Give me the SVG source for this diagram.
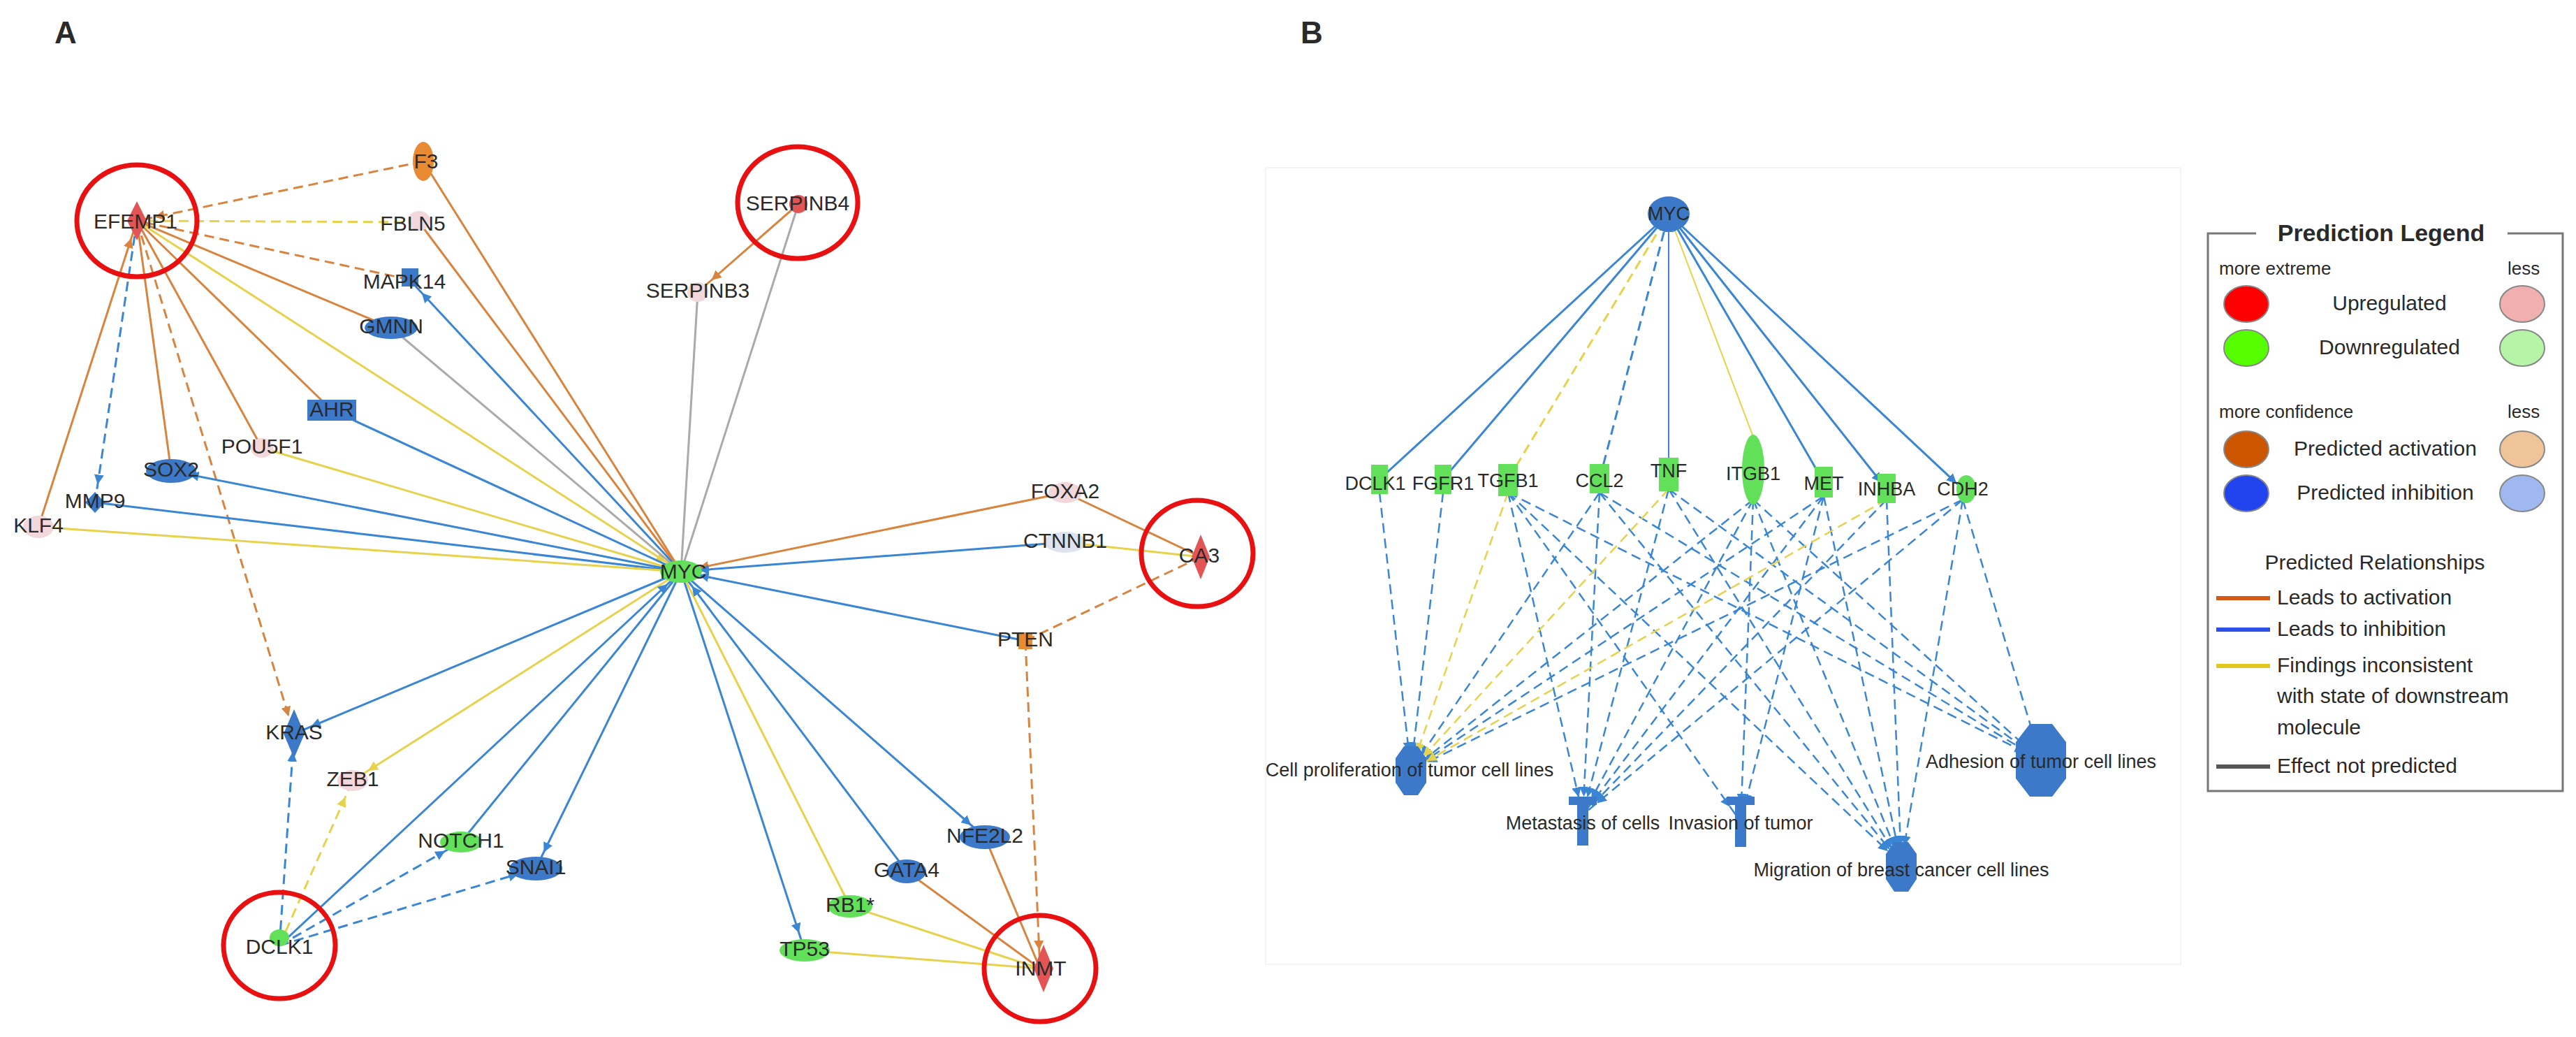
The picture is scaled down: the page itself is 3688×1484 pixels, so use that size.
<svg xmlns="http://www.w3.org/2000/svg" width="3688" height="1484" viewBox="0 0 3688 1484">
<style>
text{font-family:"Liberation Sans",Arial,sans-serif;fill:#2a2a2a}
.lab{font-size:30px;text-anchor:middle;dominant-baseline:middle}
.bl{font-size:27px;text-anchor:middle;dominant-baseline:middle}
.lg{font-size:30px;dominant-baseline:middle}
.e{fill:none;stroke-width:3}
.b{stroke:#3a86d4}.o{stroke:#d8843e}.y{stroke:#e6d24c}.g{stroke:#aaaaaa}
.d{stroke-dasharray:14 8}
.ring{fill:none;stroke:#e81010;stroke-width:7}
.nb{fill:#3c79c8}.ng{fill:#63e05a}.np{fill:#f2d7db}.no{fill:#e88a32}.nr{fill:#e35555}
</style>
<defs>
<marker id="mb" markerUnits="userSpaceOnUse" markerWidth="60" markerHeight="20" viewBox="0 0 60 20" refX="40" refY="10" orient="auto"><path d="M0,3 L14,10 L0,17z" fill="#3a86d4"/></marker>
<marker id="mo" markerUnits="userSpaceOnUse" markerWidth="60" markerHeight="20" viewBox="0 0 60 20" refX="40" refY="10" orient="auto"><path d="M0,3 L14,10 L0,17z" fill="#d8843e"/></marker>
<marker id="my" markerUnits="userSpaceOnUse" markerWidth="60" markerHeight="20" viewBox="0 0 60 20" refX="40" refY="10" orient="auto"><path d="M0,3 L14,10 L0,17z" fill="#e6d24c"/></marker>
<marker id="mb2" markerUnits="userSpaceOnUse" markerWidth="60" markerHeight="20" viewBox="0 0 60 20" refX="26" refY="10" orient="auto"><path d="M0,3 L14,10 L0,17z" fill="#3a86d4"/></marker>
<marker id="my2" markerUnits="userSpaceOnUse" markerWidth="60" markerHeight="20" viewBox="0 0 60 20" refX="26" refY="10" orient="auto"><path d="M0,3 L14,10 L0,17z" fill="#e6d24c"/></marker>
</defs>
<rect width="3688" height="1484" fill="#fff"/>
<text x="78" y="62" style="font-size:44px;font-weight:bold">A</text>
<text x="1862" y="62" style="font-size:44px;font-weight:bold">B</text>

<g id="connectorsA">
<line class="e o d" x1="606" y1="231" x2="196" y2="316" marker-end="url(#mo)"/>
<line class="e y d" x1="600" y1="318" x2="196" y2="316"/>
<line class="e o d" x1="586" y1="400" x2="196" y2="316"/>
<line class="e o" x1="560" y1="469" x2="196" y2="316"/>
<line class="e o" x1="475" y1="587" x2="196" y2="316"/>
<line class="e o" x1="375" y1="641" x2="196" y2="316"/>
<line class="e o" x1="245" y1="674" x2="196" y2="316"/>
<line class="e b d" x1="196" y1="316" x2="136" y2="719" marker-end="url(#mb)"/>
<line class="e o" x1="55" y1="754" x2="196" y2="316" marker-end="url(#mo)"/>
<line class="e o d" x1="196" y1="316" x2="421" y2="1050" marker-end="url(#mo)"/>
<line class="e y" x1="196" y1="316" x2="975" y2="818" marker-end="url(#my)"/>
<line class="e o" x1="606" y1="231" x2="975" y2="818"/>
<line class="e o" x1="600" y1="318" x2="975" y2="818"/>
<line class="e b" x1="975" y1="818" x2="586" y2="400" marker-end="url(#mb)"/>
<line class="e g" x1="560" y1="469" x2="975" y2="818"/>
<line class="e b" x1="475" y1="587" x2="975" y2="818"/>
<line class="e y" x1="375" y1="641" x2="975" y2="818"/>
<line class="e b" x1="975" y1="818" x2="245" y2="674" marker-end="url(#mb)"/>
<line class="e b" x1="136" y1="719" x2="975" y2="818"/>
<line class="e y" x1="55" y1="754" x2="975" y2="818"/>
<line class="e o" x1="1143" y1="292" x2="999" y2="418" marker-end="url(#mo)"/>
<line class="e g" x1="999" y1="418" x2="975" y2="818"/>
<line class="e g" x1="1143" y1="292" x2="975" y2="818"/>
<line class="e o" x1="1525" y1="705" x2="975" y2="818" marker-end="url(#mo)"/>
<line class="e b" x1="1525" y1="776" x2="975" y2="818" marker-end="url(#mb)"/>
<line class="e o" x1="1525" y1="705" x2="1719" y2="797"/>
<line class="e y" x1="1525" y1="776" x2="1719" y2="797"/>
<line class="e b" x1="1468" y1="917" x2="975" y2="818" marker-end="url(#mb)"/>
<line class="e o d" x1="1719" y1="797" x2="1468" y2="917"/>
<line class="e o d" x1="1468" y1="917" x2="1489" y2="1386" marker-end="url(#mo)"/>
<line class="e b" x1="975" y1="818" x2="421" y2="1050" marker-end="url(#mb)"/>
<line class="e y" x1="975" y1="818" x2="505" y2="1117" marker-end="url(#my)"/>
<line class="e b" x1="660" y1="1205" x2="975" y2="818"/>
<line class="e b" x1="400" y1="1353" x2="975" y2="818" marker-end="url(#mb)"/>
<line class="e b" x1="975" y1="818" x2="767" y2="1243" marker-end="url(#mb)"/>
<line class="e b" x1="975" y1="818" x2="1152" y2="1360" marker-end="url(#mb)"/>
<line class="e y" x1="975" y1="818" x2="1217" y2="1297"/>
<line class="e b" x1="1298" y1="1247" x2="975" y2="818" marker-end="url(#mb)"/>
<line class="e b" x1="975" y1="818" x2="1410" y2="1198" marker-end="url(#mb)"/>
<line class="e o" x1="1410" y1="1198" x2="1489" y2="1386"/>
<line class="e o" x1="1298" y1="1247" x2="1489" y2="1386"/>
<line class="e y" x1="1217" y1="1297" x2="1489" y2="1386"/>
<line class="e y" x1="1152" y1="1360" x2="1489" y2="1386"/>
<line class="e b d" x1="400" y1="1353" x2="421" y2="1050" marker-end="url(#mb)"/>
<line class="e y d" x1="400" y1="1353" x2="505" y2="1117" marker-end="url(#my)"/>
<line class="e b d" x1="400" y1="1353" x2="660" y2="1205" marker-end="url(#mb)"/>
<line class="e b d" x1="400" y1="1353" x2="767" y2="1243" marker-end="url(#mb)"/>
</g>

<g id="nodesA">
<g id="n-EFEMP1"><ellipse class="ring" cx="196" cy="316" rx="86" ry="80"/><path class="nr" d="M196,288 L210,316 L196,344 L182,316z"/><text class="lab" x="194" y="319">EFEMP1</text></g>
<g id="n-F3"><ellipse class="no" cx="606" cy="231" rx="15" ry="28"/><text class="lab" x="610" y="233">F3</text></g>
<g id="n-FBLN5"><ellipse class="np" cx="600" cy="316" rx="16" ry="14"/><text class="lab" x="591" y="322">FBLN5</text></g>
<g id="n-MAPK14"><rect class="nb" x="575" y="384" width="24" height="26"/><text class="lab" x="579" y="405">MAPK14</text></g>
<g id="n-GMNN"><ellipse class="nb" cx="560" cy="469" rx="38" ry="16"/><text class="lab" x="560" y="469">GMNN</text></g>
<g id="n-AHR"><rect class="nb" x="440" y="572" width="70" height="30"/><text class="lab" x="475" y="588">AHR</text></g>
<g id="n-POU5F1"><ellipse class="np" cx="375" cy="641" rx="16" ry="14"/><text class="lab" x="375" y="641">POU5F1</text></g>
<g id="n-SOX2"><ellipse class="nb" cx="245" cy="674" rx="36" ry="17"/><text class="lab" x="245" y="674">SOX2</text></g>
<g id="n-MMP9"><path class="nb" d="M136,704 L150,719 L136,734 L122,719z"/><text class="lab" x="136" y="719">MMP9</text></g>
<g id="n-KLF4"><ellipse class="np" cx="55" cy="754" rx="22" ry="16"/><text class="lab" x="55" y="754">KLF4</text></g>
<g id="n-MYC"><ellipse class="ng" cx="975" cy="818" rx="30" ry="16"/><text class="lab" x="978" y="820">MYC</text></g>
<g id="n-SERPINB4"><ellipse class="ring" cx="1142" cy="290" rx="86" ry="80"/><circle class="nr" cx="1143" cy="292" r="13"/><text class="lab" x="1142" y="293">SERPINB4</text></g>
<g id="n-SERPINB3"><ellipse class="np" cx="999" cy="418" rx="15" ry="14"/><text class="lab" x="999" y="418">SERPINB3</text></g>
<g id="n-FOXA2"><ellipse class="np" cx="1525" cy="705" rx="24" ry="15"/><text class="lab" x="1525" y="705">FOXA2</text></g>
<g id="n-CTNNB1"><ellipse class="np" cx="1525" cy="776" rx="30" ry="15" style="fill:#dfe3f0"/><text class="lab" x="1525" y="776">CTNNB1</text></g>
<g id="n-CA3"><ellipse class="ring" cx="1714" cy="792" rx="80" ry="76"/><path class="nr" d="M1719,765 L1732,797 L1719,829 L1706,797z"/><text class="lab" x="1717" y="797">CA3</text></g>
<g id="n-PTEN"><rect class="no" x="1458" y="905" width="20" height="24"/><text class="lab" x="1468" y="917">PTEN</text></g>
<g id="n-KRAS"><path class="nb" d="M421,1015 L436,1050 L421,1085 L406,1050z"/><text class="lab" x="421" y="1050">KRAS</text></g>
<g id="n-ZEB1"><ellipse class="np" cx="505" cy="1117" rx="22" ry="15"/><text class="lab" x="505" y="1117">ZEB1</text></g>
<g id="n-NOTCH1"><ellipse class="ng" cx="660" cy="1205" rx="30" ry="15"/><text class="lab" x="660" y="1205">NOTCH1</text></g>
<g id="n-SNAI1"><ellipse class="nb" cx="767" cy="1243" rx="38" ry="17"/><text class="lab" x="767" y="1243">SNAI1</text></g>
<g id="n-DCLK1"><ellipse class="ring" cx="400" cy="1353" rx="80" ry="76"/><ellipse class="ng" cx="400" cy="1342" rx="14" ry="12"/><text class="lab" x="400" y="1357">DCLK1</text></g>
<g id="n-NFE2L2"><ellipse class="nb" cx="1410" cy="1198" rx="36" ry="17"/><text class="lab" x="1410" y="1198">NFE2L2</text></g>
<g id="n-GATA4"><ellipse class="nb" cx="1298" cy="1247" rx="28" ry="17"/><text class="lab" x="1298" y="1247">GATA4</text></g>
<g id="n-RB1"><ellipse class="ng" cx="1217" cy="1297" rx="32" ry="16"/><text class="lab" x="1217" y="1297">RB1*</text></g>
<g id="n-TP53"><ellipse class="ng" cx="1152" cy="1360" rx="36" ry="16"/><text class="lab" x="1152" y="1360">TP53</text></g>
<g id="n-INMT"><ellipse class="ring" cx="1489" cy="1386" rx="80" ry="76"/><path class="nr" d="M1494,1352 L1508,1386 L1494,1420 L1480,1386z"/><text class="lab" x="1490" y="1388">INMT</text></g>
</g>

<rect x="1812" y="240" width="1310" height="1140" fill="none" stroke="#f4f4f4" stroke-width="2"/>

<g id="connectorsB">
<line class="e b" x1="1975" y1="686" x2="2389" y2="306" marker-end="url(#mb2)"/>
<line class="e b" x1="2066" y1="686" x2="2389" y2="306" marker-end="url(#mb2)"/>
<line class="e y d" x1="2159" y1="686" x2="2389" y2="306" marker-end="url(#my2)"/>
<line class="e b d" x1="2290" y1="686" x2="2389" y2="306" marker-end="url(#mb2)"/>
<line class="e b" style="stroke-width:2" x1="2389" y1="679" x2="2389" y2="306" marker-end="url(#mb2)"/>
<line class="e y" style="stroke-width:2" x1="2389" y1="306" x2="2510" y2="625"/>
<line class="e b" x1="2611" y1="690" x2="2389" y2="306" marker-end="url(#mb2)"/>
<line class="e b" x1="2389" y1="306" x2="2701" y2="700" marker-end="url(#mb2)"/>
<line class="e b" x1="2389" y1="306" x2="2810" y2="700" marker-end="url(#mb2)"/>
<g class="e b d" style="stroke-width:2.5">
<line x1="1975" y1="705" x2="2020" y2="1102" marker-end="url(#mb)"/>
<line x1="2066" y1="705" x2="2020" y2="1102" marker-end="url(#mb)"/>
<line x1="2159" y1="705" x2="2266" y2="1166" marker-end="url(#mb)"/>
<line x1="2159" y1="705" x2="2492" y2="1176" marker-end="url(#mb)"/>
<line x1="2159" y1="705" x2="2722" y2="1236" marker-end="url(#mb)"/>
<line x1="2159" y1="705" x2="2922" y2="1088" marker-end="url(#mb)"/>
<line x1="2290" y1="705" x2="2020" y2="1102" marker-end="url(#mb)"/>
<line x1="2290" y1="705" x2="2266" y2="1166" marker-end="url(#mb)"/>
<line x1="2290" y1="705" x2="2722" y2="1236" marker-end="url(#mb)"/>
<line x1="2290" y1="705" x2="2922" y2="1088" marker-end="url(#mb)"/>
<line x1="2389" y1="700" x2="2266" y2="1166" marker-end="url(#mb)"/>
<line x1="2389" y1="700" x2="2722" y2="1236" marker-end="url(#mb)"/>
<line x1="2389" y1="700" x2="2922" y2="1088" marker-end="url(#mb)"/>
<line x1="2510" y1="715" x2="2020" y2="1102" marker-end="url(#mb)"/>
<line x1="2510" y1="715" x2="2266" y2="1166" marker-end="url(#mb)"/>
<line x1="2510" y1="715" x2="2492" y2="1176" marker-end="url(#mb)"/>
<line x1="2510" y1="715" x2="2722" y2="1236" marker-end="url(#mb)"/>
<line x1="2510" y1="715" x2="2922" y2="1088" marker-end="url(#mb)"/>
<line x1="2611" y1="710" x2="2020" y2="1102" marker-end="url(#mb)"/>
<line x1="2611" y1="710" x2="2266" y2="1166" marker-end="url(#mb)"/>
<line x1="2611" y1="710" x2="2492" y2="1176" marker-end="url(#mb)"/>
<line x1="2611" y1="710" x2="2722" y2="1236" marker-end="url(#mb)"/>
<line x1="2701" y1="715" x2="2266" y2="1166" marker-end="url(#mb)"/>
<line x1="2701" y1="715" x2="2722" y2="1236" marker-end="url(#mb)"/>
<line x1="2810" y1="715" x2="2020" y2="1102" marker-end="url(#mb)"/>
<line x1="2810" y1="715" x2="2266" y2="1166" marker-end="url(#mb)"/>
<line x1="2810" y1="715" x2="2722" y2="1236" marker-end="url(#mb)"/>
<line x1="2810" y1="715" x2="2922" y2="1088" marker-end="url(#mb)"/>
</g>
<line class="e y d" style="stroke-width:2.5" x1="2159" y1="705" x2="2020" y2="1102" marker-end="url(#my)"/>
<line class="e y d" style="stroke-width:2.5" x1="2389" y1="700" x2="2020" y2="1102" marker-end="url(#my)"/>
<line class="e y d" style="stroke-width:2.5" x1="2701" y1="715" x2="2020" y2="1102" marker-end="url(#my)"/>
</g>

<g id="nodesB">
<g id="b-MYC"><ellipse class="nb" cx="2389" cy="306" rx="30" ry="25"/><text class="bl" x="2389" y="308">MYC</text></g>
<g id="b-DCLK1"><rect class="ng" x="1963" y="665" width="24" height="42"/><text class="bl" x="1969" y="694">DCLK1</text></g>
<g id="b-FGFR1"><rect class="ng" x="2054" y="665" width="24" height="42"/><text class="bl" x="2066" y="694">FGFR1</text></g>
<g id="b-TGFB1"><rect class="ng" x="2145" y="664" width="28" height="46"/><text class="bl" x="2159" y="690">TGFB1</text></g>
<g id="b-CCL2"><rect class="ng" x="2276" y="664" width="28" height="42"/><text class="bl" x="2290" y="690">CCL2</text></g>
<g id="b-TNF"><rect class="ng" x="2375" y="655" width="28" height="48"/><text class="bl" x="2389" y="676">TNF</text></g>
<g id="b-ITGB1"><ellipse class="ng" cx="2510" cy="672" rx="16" ry="50"/><text class="bl" x="2510" y="680">ITGB1</text></g>
<g id="b-MET"><rect class="ng" x="2598" y="668" width="26" height="44"/><text class="bl" x="2611" y="694">MET</text></g>
<g id="b-INHBA"><rect class="ng" x="2688" y="678" width="26" height="42"/><text class="bl" x="2701" y="702">INHBA</text></g>
<g id="b-CDH2"><ellipse class="ng" cx="2815" cy="700" rx="14" ry="20"/><text class="bl" x="2810" y="702">CDH2</text></g>
<g id="b-CP"><path class="nb" d="M2010,1068 L2030,1068 L2042,1085 L2042,1120 L2030,1138 L2010,1138 L1998,1120 L1998,1085z"/><text class="bl" x="2018" y="1104">Cell proliferation of tumor cell lines</text></g>
<g id="b-MET2"><rect class="nb" x="2258" y="1140" width="16" height="70"/><rect class="nb" x="2246" y="1140" width="40" height="12"/><text class="bl" x="2266" y="1180">Metastasis of cells</text></g>
<g id="b-INV"><rect class="nb" x="2484" y="1140" width="16" height="72"/><rect class="nb" x="2472" y="1140" width="40" height="12"/><text class="bl" x="2492" y="1180">Invasion of tumor</text></g>
<g id="b-MIG"><path class="nb" d="M2712,1205 L2732,1205 L2744,1222 L2744,1258 L2732,1276 L2712,1276 L2700,1258 L2700,1222z"/><text class="bl" x="2722" y="1247">Migration of breast cancer cell lines</text></g>
<g id="b-ADH"><path class="nb" d="M2906,1036 L2938,1036 L2958,1062 L2958,1114 L2938,1140 L2906,1140 L2886,1114 L2886,1062z"/><text class="bl" x="2922" y="1092">Adhesion of tumor cell lines</text></g>
</g>

<g id="legend">
<path d="M3230,334 L3161,334 L3161,1132 L3669,1132 L3669,334 L3590,334" fill="none" stroke="#777" stroke-width="3"/>
<text x="3409" y="336" style="font-size:34px;font-weight:bold;text-anchor:middle;dominant-baseline:middle">Prediction Legend</text>
<text class="lg" x="3177" y="386" style="font-size:26px">more extreme</text>
<text class="lg" x="3590" y="386" style="font-size:26px">less</text>
<ellipse cx="3216" cy="435" rx="32" ry="26" fill="#ff0000" stroke="#888" stroke-width="2"/>
<ellipse cx="3611" cy="435" rx="32" ry="26" fill="#f0b0b0" stroke="#888" stroke-width="2"/>
<text class="lg" x="3421" y="436" text-anchor="middle">Upregulated</text>
<ellipse cx="3216" cy="498" rx="32" ry="26" fill="#55ff00" stroke="#888" stroke-width="2"/>
<ellipse cx="3611" cy="498" rx="32" ry="26" fill="#b6f5a8" stroke="#888" stroke-width="2"/>
<text class="lg" x="3421" y="499" text-anchor="middle">Downregulated</text>
<text class="lg" x="3177" y="591" style="font-size:26px">more confidence</text>
<text class="lg" x="3590" y="591" style="font-size:26px">less</text>
<ellipse cx="3216" cy="643" rx="32" ry="26" fill="#cc5500" stroke="#888" stroke-width="2"/>
<ellipse cx="3611" cy="643" rx="32" ry="26" fill="#efc498" stroke="#888" stroke-width="2"/>
<text class="lg" x="3415" y="644" text-anchor="middle">Predicted activation</text>
<ellipse cx="3216" cy="706" rx="32" ry="26" fill="#2244ee" stroke="#888" stroke-width="2"/>
<ellipse cx="3611" cy="706" rx="32" ry="26" fill="#a0b8f0" stroke="#888" stroke-width="2"/>
<text class="lg" x="3415" y="707" text-anchor="middle">Predicted inhibition</text>
<text class="lg" x="3400" y="807" text-anchor="middle">Predicted Relationships</text>
<line x1="3173" y1="856" x2="3250" y2="856" stroke="#d65a16" stroke-width="6"/>
<text class="lg" x="3260" y="857">Leads to activation</text>
<line x1="3173" y1="901" x2="3250" y2="901" stroke="#2a50e8" stroke-width="6"/>
<text class="lg" x="3260" y="902">Leads to inhibition</text>
<line x1="3173" y1="953" x2="3250" y2="953" stroke="#e0c81c" stroke-width="6"/>
<text class="lg" x="3260" y="954">Findings inconsistent</text>
<text class="lg" x="3260" y="998">with state of downstream</text>
<text class="lg" x="3260" y="1043">molecule</text>
<line x1="3173" y1="1097" x2="3250" y2="1097" stroke="#555" stroke-width="6"/>
<text class="lg" x="3260" y="1098">Effect not predicted</text>
</g>
</svg>
